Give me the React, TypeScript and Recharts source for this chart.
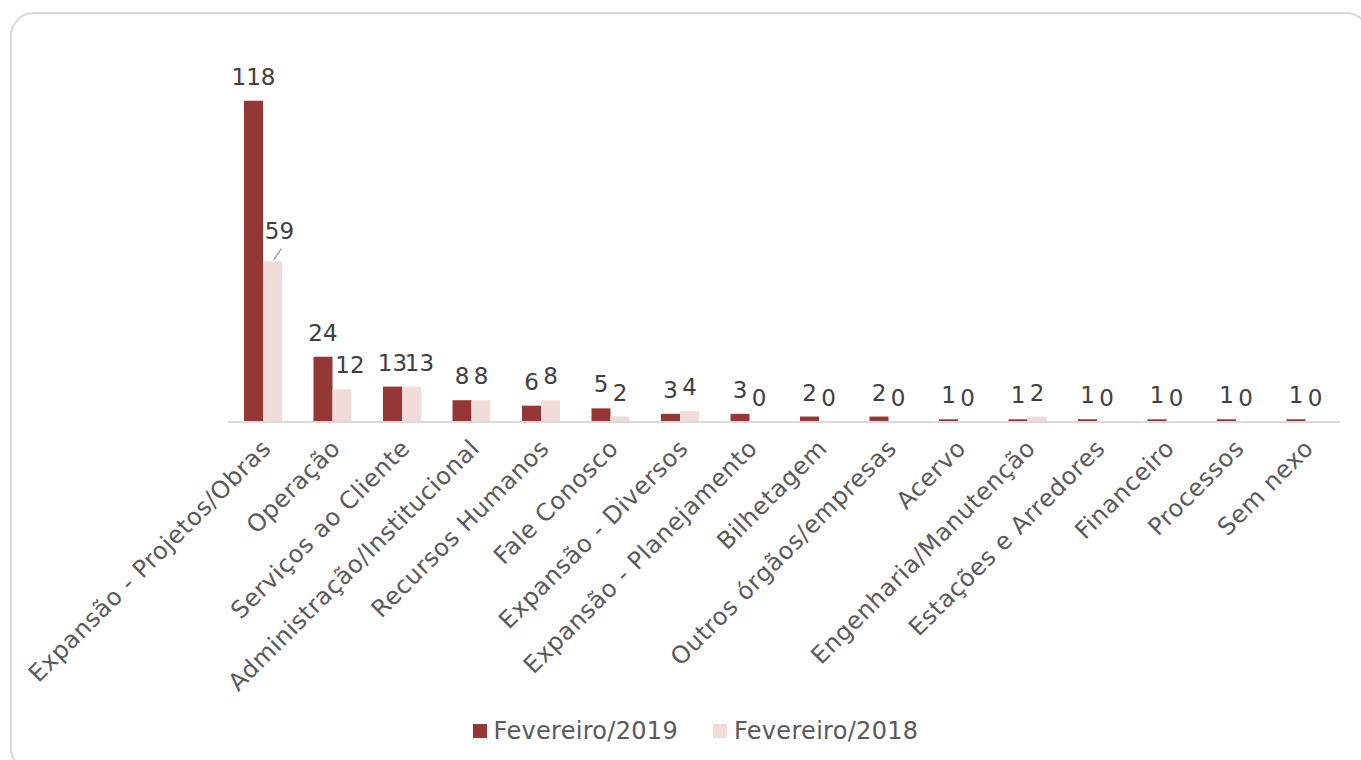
import React from "react";
import { BarChart, Bar, XAxis, YAxis, Legend, LabelList } from "recharts";

const categories = [
  "Expansão - Projetos/Obras",
  "Operação",
  "Serviços ao Cliente",
  "Administração/Institucional",
  "Recursos Humanos",
  "Fale Conosco",
  "Expansão - Diversos",
  "Expansão - Planejamento",
  "Bilhetagem",
  "Outros órgãos/empresas",
  "Acervo",
  "Engenharia/Manutenção",
  "Estações e Arredores",
  "Financeiro",
  "Processos",
  "Sem nexo",
];
const feb2019 = [118, 24, 13, 8, 6, 5, 3, 3, 2, 2, 1, 1, 1, 1, 1, 1];
const feb2018 = [59, 12, 13, 8, 8, 2, 4, 0, 0, 0, 0, 2, 0, 0, 0, 0];
const seriesNames = ["Fevereiro/2019", "Fevereiro/2018"];

const DARK = "#953735";
const LIGHT = "#f2dcdb";
const FONT = "'DejaVu Sans', Verdana, sans-serif";

const data = categories.map((c, i) => ({ name: c, a: feb2019[i], b: feb2018[i] }));

const Tick = (props: any) => {
  const { x, y, payload } = props;
  return (
    <g transform={`translate(${x + 4},${y + 14})`}>
      <text
        x={0}
        y={0}
        dy={8}
        textAnchor="end"
        transform="rotate(-45)"
        fill="#595959"
        fontSize={24}
        letterSpacing={0.6}
        fontFamily={FONT}
      >
        {payload.value}
      </text>
    </g>
  );
};

// Labels for both series, positioned from the first series' bar geometry
const PairLabel = (props: any) => {
  const { x, y, width, height, value, index } = props;
  const baseline = y + height;
  const pxPerUnit = height / value;
  const cxA = x + width / 2;
  const bVal = feb2018[index];
  const bTop = baseline - bVal * pxPerUnit;
  const cxB = x + width + width / 2;
  const bShift = String(bVal).length > 1 ? 8 : 0;
  const common = { fill: "#404040", fontSize: 23, fontFamily: FONT, textAnchor: "middle" as const };
  return (
    <g>
      <text x={cxA} y={y - 16} {...common}>
        {value}
      </text>
      {index === 0 ? (
        <g>
          <line x1={cxB + 1} y1={bTop - 1} x2={cxB + 9} y2={bTop - 13} stroke="#a6a6a6" strokeWidth={1.5} />
          <text x={cxB + 7} y={bTop - 22} {...common}>
            {bVal}
          </text>
        </g>
      ) : (
        <text x={cxB + bShift} y={bTop - 16} {...common}>
          {bVal}
        </text>
      )}
    </g>
  );
};

const LegendContent = () => (
  <div
    style={{
      display: "flex",
      justifyContent: "center",
      alignItems: "center",
      fontFamily: FONT,
      fontSize: 24,
      letterSpacing: 0.3,
      color: "#595959",
      paddingLeft: 30,
    }}
  >
    {seriesNames.map((n, i) => (
      <div key={n} style={{ display: "flex", alignItems: "center", marginLeft: i ? 35 : 0 }}>
        <span
          style={{
            display: "inline-block",
            width: 14,
            height: 14,
            background: i ? LIGHT : DARK,
            marginRight: 7,
          }}
        />
        <span>{n}</span>
      </div>
    ))}
  </div>
);

export default function App() {
  return (
    <div style={{ position: "absolute", left: 0, top: 0, width: 1361, height: 760, overflow: "hidden", background: "#fff" }}>
      <div
        style={{
          position: "absolute",
          left: 10,
          top: 12,
          width: 1360,
          height: 760,
          border: "2px solid #d9d9d9",
          borderRadius: 24,
          boxSizing: "border-box",
        }}
      />
      <div style={{ position: "absolute", left: 0, top: 0 }}>
        <BarChart
          width={1361}
          height={760}
          data={data}
          margin={{ top: 68, right: 21, left: 228, bottom: 30 }}
          barGap={0}
          barSize={19}
        >
          <XAxis
            dataKey="name"
            interval={0}
            height={280}
            tick={<Tick />}
            tickLine={false}
            axisLine={{ stroke: "#d9d9d9", strokeWidth: 2 }}
          />
          <YAxis hide domain={[0, 130]} width={0} />
          <Legend
            content={<LegendContent />}
            wrapperStyle={{ position: "absolute", top: 717, left: 0, width: 1361 }}
          />
          <Bar dataKey="a" fill={DARK} isAnimationActive={false}>
            <LabelList dataKey="a" content={<PairLabel />} />
          </Bar>
          <Bar dataKey="b" fill={LIGHT} isAnimationActive={false} />
        </BarChart>
      </div>
    </div>
  );
}
